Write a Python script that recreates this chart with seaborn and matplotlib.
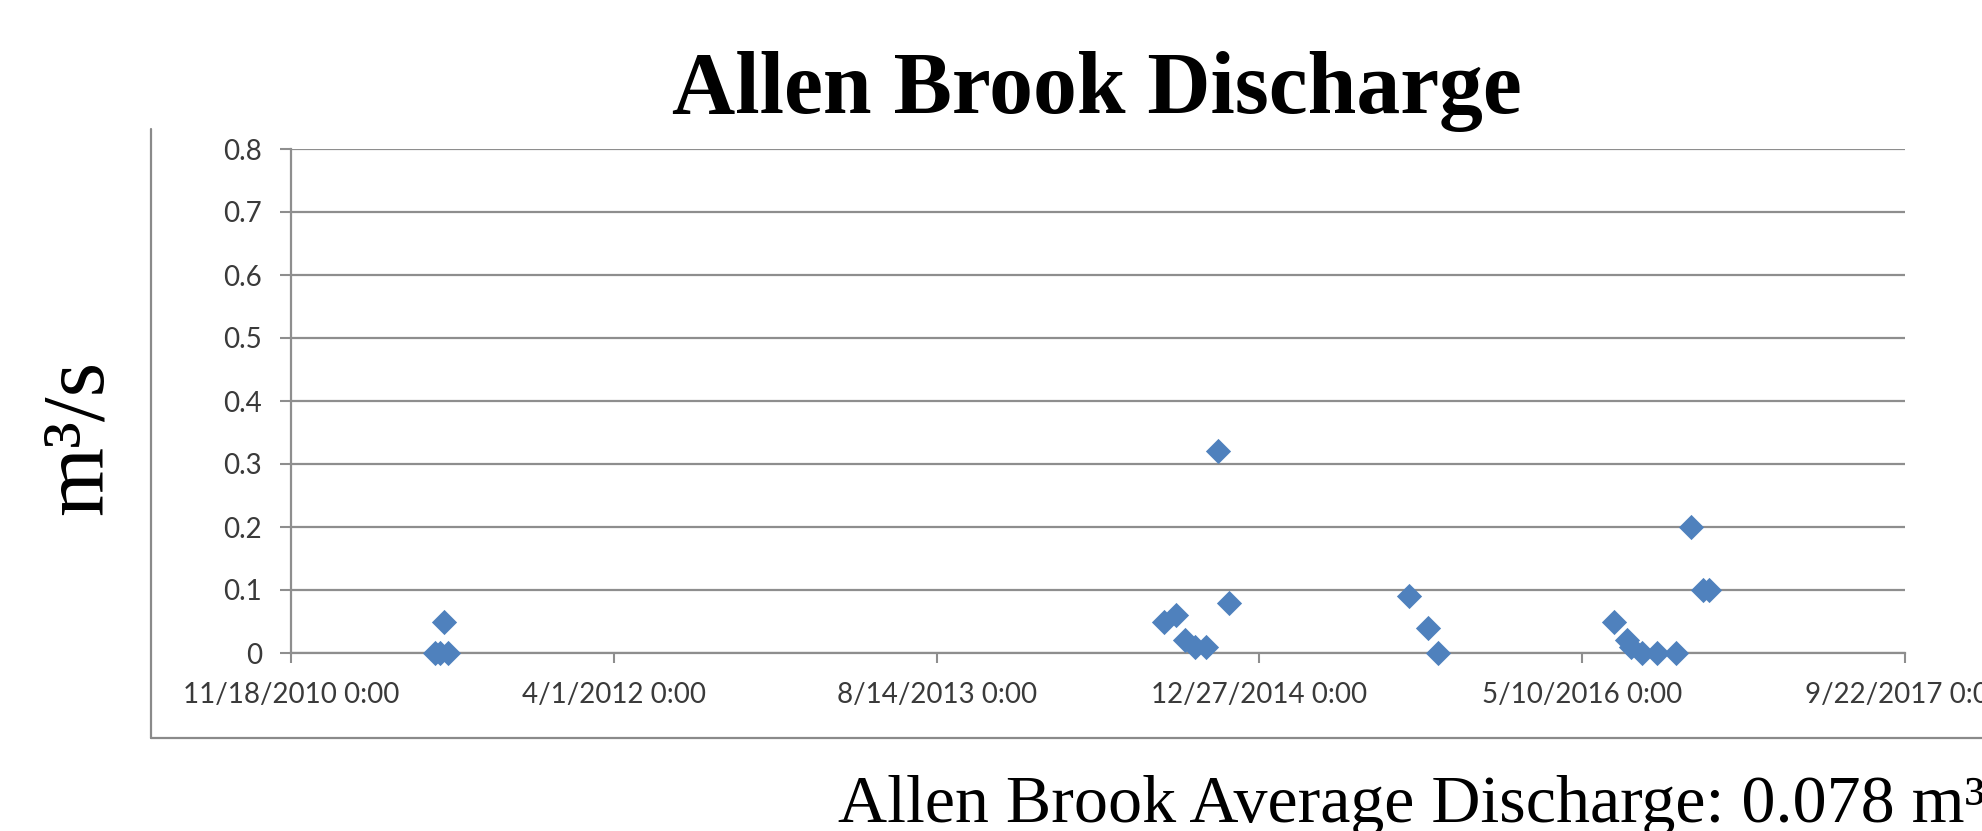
import matplotlib
matplotlib.use("Agg")
import matplotlib.pyplot as plt
import seaborn as sns
import pandas as pd
from matplotlib.lines import Line2D

# Discharge measurements (m^3/s) by sampling date
sample_dates = [
    "2011-06-29", "2011-07-07", "2011-07-13", "2011-07-19",
    "2014-08-02", "2014-08-20", "2014-09-02", "2014-09-19", "2014-10-06",
    "2014-10-24", "2014-11-10",
    "2015-08-16", "2015-09-14", "2015-09-29",
    "2016-06-29", "2016-07-18", "2016-07-25", "2016-08-10", "2016-09-03",
    "2016-10-03", "2016-10-25", "2016-11-13", "2016-11-23",
]
discharge = [
    0.0, 0.0, 0.05, 0.0,
    0.05, 0.06, 0.02, 0.01, 0.01,
    0.32, 0.08,
    0.09, 0.04, 0.0,
    0.05, 0.02, 0.01, 0.0, 0.0,
    0.0, 0.2, 0.1, 0.1,
]

x_tick_dates = ["2010-11-18", "2012-04-01", "2013-08-14",
                "2014-12-27", "2016-05-10", "2017-09-22"]
x_tick_labels = ["11/18/2010 0:00", "4/1/2012 0:00", "8/14/2013 0:00",
                 "12/27/2014 0:00", "5/10/2016 0:00", "9/22/2017 0:00"]
y_ticks = [0, 0.1, 0.2, 0.3, 0.4, 0.5, 0.6, 0.7, 0.8]
y_tick_labels = ["0", "0.1", "0.2", "0.3", "0.4", "0.5", "0.6", "0.7", "0.8"]

title_text = "Allen Brook Discharge"
y_label_text = "m\u00b3/s"
note_text = "Allen Brook Average Discharge: 0.078 m\u00b3/s"

sns.set_theme(style="white")
plt.rcParams["font.family"] = ["Lato", "DejaVu Sans"]

W, H = 1982, 831
fig = plt.figure(figsize=(W / 100, H / 100), dpi=100)
fig.patch.set_facecolor("white")

ax = fig.add_axes([291 / W, 1 - 653 / H, (1905 - 291) / W, (653 - 149) / H])

df = pd.DataFrame({"date": pd.to_datetime(sample_dates), "discharge": discharge})
sns.scatterplot(data=df, x="date", y="discharge", marker="D", s=165,
                color="#4F81BD", linewidth=0, ax=ax, zorder=3, clip_on=False)

grid_col = "#8e8e8e"
tick_dt = pd.to_datetime(x_tick_dates)
ax.set_xlim(tick_dt[0], tick_dt[-1])
ax.set_ylim(0, 0.8)
ax.set_xticks(tick_dt)
ax.set_xticklabels(x_tick_labels)
ax.set_yticks(y_ticks)
ax.set_yticklabels(y_tick_labels)
ax.set_xlabel("")
ax.set_ylabel("")

ax.yaxis.grid(True, color=grid_col, linewidth=1.6)
ax.xaxis.grid(False)
ax.set_axisbelow(True)
for side in ["top", "right"]:
    ax.spines[side].set_visible(False)
for side in ["left", "bottom"]:
    ax.spines[side].set_color(grid_col)
    ax.spines[side].set_linewidth(1.6)

ax.tick_params(axis="x", direction="out", length=7, width=1.5, color=grid_col,
               pad=14, labelsize=20, labelcolor="#3a3a3a", bottom=True)
ax.tick_params(axis="y", direction="out", length=8, width=1.5, color=grid_col,
               pad=13, labelsize=20, labelcolor="#3a3a3a", left=True)

serif = ["Liberation Serif", "DejaVu Serif"]
fig.text(1097 / W, 1 - 113 / H, title_text, ha="center", va="baseline",
         fontsize=63, fontweight="bold", family=serif, color="black")
fig.text(102 / W, 1 - 437 / H, y_label_text, rotation=90, rotation_mode="anchor",
         ha="center", va="baseline", fontsize=64, family=serif, color="black")
fig.text(838 / W, 1 - 822 / H, note_text, ha="left", va="baseline",
         fontsize=49, family=serif, color="black")

# chart border (left and bottom edges)
frame_col = "#8a8a8a"
fig.add_artist(Line2D([151 / W, 151 / W], [1 - 129 / H, 1 - 738 / H],
                      transform=fig.transFigure, color=frame_col, linewidth=1.6))
fig.add_artist(Line2D([151 / W, 1.0], [1 - 738 / H, 1 - 738 / H],
                      transform=fig.transFigure, color=frame_col, linewidth=1.6))

fig.savefig("out.png", dpi=100, facecolor="white")
